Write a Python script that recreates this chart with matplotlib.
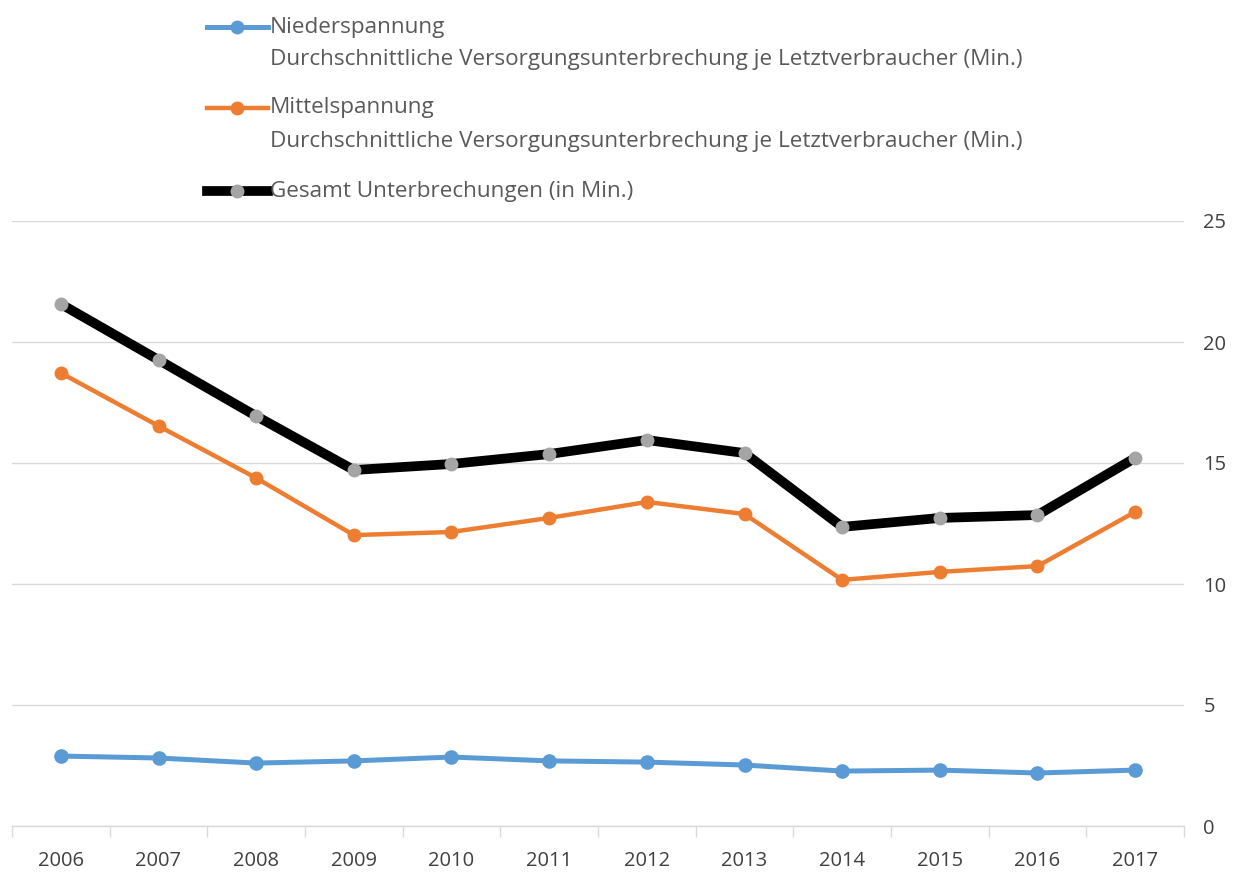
import matplotlib
matplotlib.use("Agg")
import matplotlib.pyplot as plt
from matplotlib.lines import Line2D
import numpy as np

plt.rcParams['font.family'] = ['Open Sans', 'DejaVu Sans']

years = ['2006', '2007', '2008', '2009', '2010', '2011',
         '2012', '2013', '2014', '2015', '2016', '2017']
nieder = [2.89, 2.81, 2.60, 2.69, 2.85, 2.69, 2.64, 2.52, 2.27, 2.31, 2.19, 2.31]
mittel = [18.72, 16.53, 14.38, 12.02, 12.15, 12.73, 13.39, 12.89, 10.17, 10.50, 10.74, 12.98]
gesamt = [21.57, 19.26, 16.94, 14.71, 14.96, 15.37, 15.95, 15.41, 12.36, 12.73, 12.85, 15.21]

label_nieder = 'Niederspannung\nDurchschnittliche Versorgungsunterbrechung je Letztverbraucher (Min.)'
label_mittel = 'Mittelspannung\nDurchschnittliche Versorgungsunterbrechung je Letztverbraucher (Min.)'
label_gesamt = 'Gesamt Unterbrechungen (in Min.)'

BLUE = '#5B9BD5'
ORANGE = '#ED7D31'
GRAY = '#A5A5A5'
TXT = '#595959'
TICK = '#404040'

fig = plt.figure(figsize=(12.46, 8.75), dpi=100)
ax = fig.add_axes([12 / 1246, 1 - 826 / 875, (1184 - 12) / 1246, (826 - 221) / 875])

x = np.arange(len(years))
ax.plot(x, gesamt, color='black', lw=7, marker='o', ms=9,
        mfc=GRAY, mec=GRAY, zorder=3, solid_capstyle='round')
ax.plot(x, mittel, color=ORANGE, lw=3.2, marker='o', ms=9,
        mfc=ORANGE, mec=ORANGE, zorder=3)
ax.plot(x, nieder, color=BLUE, lw=3.6, marker='o', ms=9.5,
        mfc=BLUE, mec=BLUE, zorder=3)

ax.set_xlim(-0.5, len(years) - 0.5)
ax.set_ylim(0, 25)
ax.set_yticks([0, 5, 10, 15, 20, 25])
ax.yaxis.tick_right()
ax.grid(axis='y', color='#D9D9D9', lw=1)
ax.set_axisbelow(True)

ax.set_xticks(x)
ax.set_xticklabels(years)
ax.set_xticks(np.arange(-0.5, len(years)), minor=True)
ax.tick_params(axis='x', which='major', length=0, pad=18, labelsize=14.5, labelcolor=TICK)
ax.tick_params(axis='x', which='minor', length=8, color='#D9D9D9', width=1)
ax.tick_params(axis='y', length=0, pad=14, labelsize=14.5, labelcolor=TICK)

for s in ['top', 'left', 'right']:
    ax.spines[s].set_visible(False)
ax.spines['bottom'].set_color('#D9D9D9')
ax.spines['bottom'].set_linewidth(1)

# legend drawn by hand so the marker sits beside the first text line
W, H = 1246.0, 875.0
entries = [
    (27, label_nieder, dict(color=BLUE, lw=3.6, mfc=BLUE, mec=BLUE)),
    (108, label_mittel, dict(color=ORANGE, lw=3.2, mfc=ORANGE, mec=ORANGE)),
    (191, label_gesamt, dict(color='black', lw=7, mfc=GRAY, mec=GRAY)),
]
for ypix, lab, st in entries:
    yf = 1 - ypix / H
    fig.add_artist(Line2D([207 / W, 268 / W], [yf, yf], transform=fig.transFigure,
                          color=st['color'], lw=st['lw']))
    fig.add_artist(Line2D([237 / W], [yf], transform=fig.transFigure, marker='o',
                          ms=9, mfc=st['mfc'], mec=st['mec'], lw=0))
    lines = lab.split('\n')
    for i, t in enumerate(lines):
        fig.text(270 / W, 1 - (ypix + i * 33) / H, t, fontsize=16.2, color=TXT,
                 ha='left', va='center')

fig.savefig('out.png', dpi=100, facecolor='white')
